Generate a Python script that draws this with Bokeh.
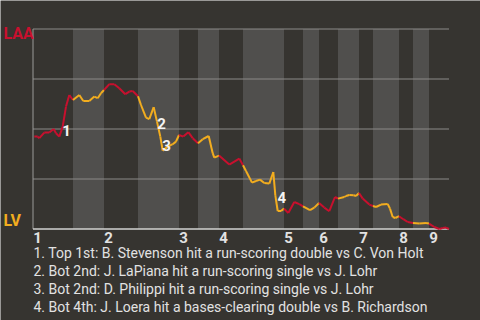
from bisect import bisect_right
from bokeh.plotting import figure
from bokeh.models import Range1d, Label
from bokeh.embed import file_html
from bokeh.resources import INLINE

# ---- data ----
teams = ["LAA", "LV"]
half_starts = [0, 40, 71, 105, 146, 165, 186, 210, 251, 270, 286, 305, 326, 340, 366, 380, 396]
game_end = 416
inning_labels = ["1", "2", "3", "4", "5", "6", "7", "8", "9"]
grid_levels = [25, 50, 75, 100]

# game progress (pitch-by-pitch units) and LAA win probability (%)
prog = [1.3, 4.7, 6.3, 11.3, 16.3, 20.7, 23, 26.3, 29.7, 33, 36.3, 40,
        46.3, 50.3, 56.3, 61.3, 64.7, 68, 71,
        76.3, 81.3, 86.3, 92.3, 96.3, 99.7, 105,
        108, 113, 116.3, 120.7, 124, 127.3, 129.7, 134.7, 139.7, 143, 146,
        150.3, 155.3, 159.7, 165,
        169.7, 175.7, 179.7, 181.3, 186,
        196.3, 206.3, 210,
        213, 219, 223, 227, 231.3, 236.3, 240.3, 242.3, 244.7, 248, 251,
        255.3, 261.3, 266.3, 270,
        277, 281.3, 286,
        291.3, 296.3, 302, 305,
        311.3, 313, 316.3, 320.7, 323, 326,
        329.7, 336.3, 340,
        343, 348, 354.7, 357, 359.7, 362.3, 366,
        370.3, 374.7, 380,
        386.3, 393, 396,
        401.3, 406.3, 409.7, 413, 416]
wp = [46.2, 46.2, 45.4, 48.2, 48.2, 50, 47.9, 46.2, 51.2, 61.2, 67, 64.5,
      67, 64, 64, 66.2, 65.4, 67.9, 69.5,
      72.4, 72.4, 70.4, 67.4, 68.7, 69, 66.4,
      62, 55.7, 54.9, 60.9, 53.7, 46.2, 39.2, 41.2, 42.4, 43.7, 47,
      46.2, 48.4, 45.4, 42.9,
      44.9, 46.5, 37.9, 35.7, 36.7,
      32.2, 35.2, 31.9,
      29, 23.2, 24, 24.7, 23, 22.7, 28.5, 16.9, 9, 9, 10.2,
      8, 13.5, 12.4, 11.3,
      9.4, 10.7, 13,
      10.7, 8.9, 16, 15.2,
      16, 16.5, 17, 16.9, 16.5, 18,
      15.2, 12.2, 11.5,
      11, 12.2, 12.5, 10.2, 6, 5.5, 6.4,
      4.9, 3.5, 3,
      2.7, 3, 2.7,
      1, 0, 0.5, 0.7, 0]

event_labels = ["1", "2", "3", "4"]
event_x = [33.5, 128.5, 133.5, 248.8]
event_y = [49.1, 52.6, 41.6, 15.8]
notes = [
    "1. Top 1st: B. Stevenson hit a run-scoring double vs C. Von Holt",
    "2. Bot 2nd: J. LaPiana hit a run-scoring single vs J. Lohr",
    "3. Bot 2nd: D. Philippi hit a run-scoring single vs J. Lohr",
    "4. Bot 4th: J. Loera hit a bases-clearing double vs B. Richardson",
]

# ---- style ----
BG = "#363430"
BAND = "#504f4d"
RED = "#c8102e"
GOLD = "#f2ad1f"
GRID = "#8b8a88"
TXT = "#e2e2e2"
FONT = "Roboto"
TICK_SHIFT = 4.5

# the frame covers the whole canvas; 1 x-unit = 1px, 1 y-unit (%) = 2px
p = figure(width=480, height=320, output_backend="svg", toolbar_location=None,
           x_range=Range1d(-32.5, 447.5), y_range=Range1d(-45.75, 114.25),
           x_axis_type=None, y_axis_type=None,
           min_border_left=0, min_border_right=0, min_border_top=0, min_border_bottom=0)
p.background_fill_color = BG
p.border_fill_color = BG
p.outline_line_color = None
p.grid.visible = False

# bottom-half bands
half_ends = half_starts[1:] + [game_end]
bl = [half_starts[i] for i in range(len(half_starts)) if i % 2 == 1]
br = [half_ends[i] for i in range(len(half_starts)) if i % 2 == 1]
p.quad(left=bl, right=br, bottom=0, top=100, fill_color=BAND, line_color=None)

# horizontal grid lines
p.segment(x0=[0] * len(grid_levels), x1=[game_end] * len(grid_levels),
          y0=grid_levels, y1=grid_levels, line_color=GRID, line_width=1)
# axis lines
p.segment(x0=[0], x1=[0], y0=[0], y1=[100], line_color="#9a9a98", line_width=1)
p.segment(x0=[0], x1=[game_end], y0=[0], y1=[0], line_color="#d2d2d0", line_width=1.5)

# win-probability line, coloured by batting team
x0, y0, x1, y1, cols = [], [], [], [], []
for i in range(len(prog) - 1):
    mid = (prog[i] + prog[i + 1]) / 2
    h = bisect_right(half_starts, mid) - 1
    x0.append(prog[i]); y0.append(wp[i]); x1.append(prog[i + 1]); y1.append(wp[i + 1])
    cols.append(RED if h % 2 == 0 else GOLD)
p.segment(x0=x0, y0=y0, x1=x1, y1=y1, line_color=cols, line_width=2)

# inning tick labels
inning_starts = [half_starts[i] for i in range(0, len(half_starts), 2)]
for s, l in zip(inning_starts, inning_labels):
    p.add_layout(Label(x=s + TICK_SHIFT, y=-4.1, text=l, text_color=TXT, text_font=FONT,
                       text_font_style="bold", text_font_size="15px",
                       text_align="center", text_baseline="alphabetic"))

# team labels
p.add_layout(Label(x=-29.5, y=97.8, text=teams[0], text_color=RED, text_font=FONT,
                   text_font_style="bold", text_font_size="16px",
                   text_baseline="alphabetic"))
p.add_layout(Label(x=-29.5, y=4.2, text=teams[1], text_color=GOLD, text_font=FONT,
                   text_font_style="bold", text_font_size="16px",
                   text_baseline="alphabetic"))

# event markers
for t, ex, ey in zip(event_labels, event_x, event_y):
    p.add_layout(Label(x=ex, y=ey, text=t, text_color="#f4f4f4", text_font=FONT,
                       text_font_style="bold", text_font_size="15px",
                       text_align="center", text_baseline="alphabetic"))

# notes
for i, n in enumerate(notes):
    p.add_layout(Label(x=0.5, y=-12.2 - 9 * i, text=n, text_color=TXT, text_font=FONT,
                       text_font_size="14px", text_baseline="alphabetic"))

open("out.html", "w").write(file_html(p, INLINE))
